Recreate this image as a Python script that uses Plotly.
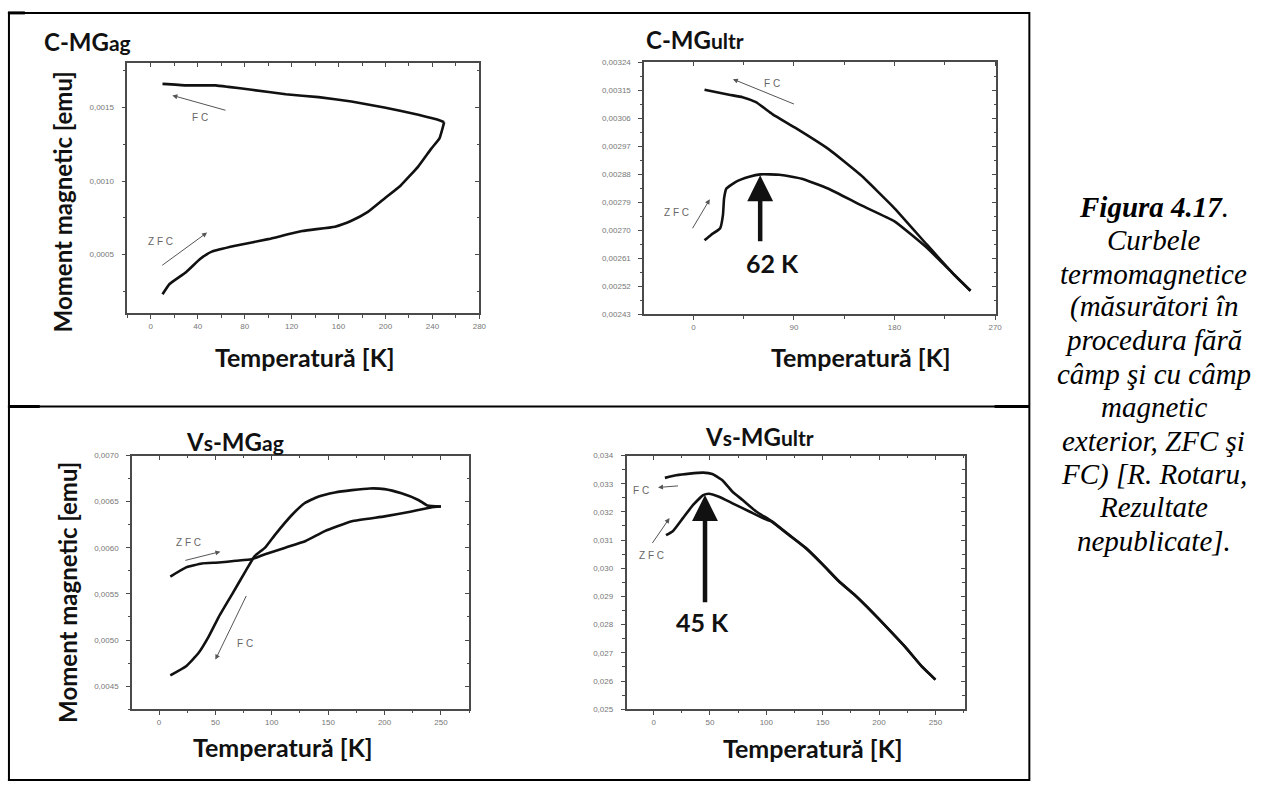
import plotly.graph_objects as go

W, H = 1283, 793

def PX(x):
    return x / W

def PY(y):
    return 1 - y / H

# ---------------- data ----------------
# C-MGag
cmgag_zfc_T = [10, 16, 30, 42, 52, 72, 100, 129, 157, 171, 185, 199, 213, 228, 239, 246, 249, 250]
cmgag_zfc_M = [0.00023, 0.00030, 0.00038, 0.00047, 0.00052, 0.00056, 0.000605, 0.00066, 0.00069,
               0.00073, 0.00079, 0.00088, 0.00097, 0.00110, 0.00122, 0.00129, 0.00137, 0.00140]
cmgag_fc_T = [250, 247, 228, 199, 171, 143, 115, 86, 66, 55, 30, 10]
cmgag_fc_M = [0.00140, 0.00141, 0.00145, 0.00150, 0.00154, 0.00157, 0.00159, 0.00162, 0.00164,
              0.00165, 0.00165, 0.00166]

# C-MGultr
cmgultr_fc_T = [10, 32, 44, 56, 71, 91, 121, 150, 180, 209, 233, 248]
cmgultr_fc_M = [0.003152, 0.003136, 0.003128, 0.003112, 0.003073, 0.00303, 0.002961, 0.002877,
                0.002771, 0.002654, 0.002559, 0.002506]
cmgultr_zfc_T = [10, 16, 24, 26.5, 27.5, 29.5, 38, 50, 60, 77, 97, 121, 150, 180, 209, 233, 248]
cmgultr_zfc_M = [0.002668, 0.002686, 0.002707, 0.00275, 0.002803, 0.002834, 0.002856, 0.002872,
                 0.00288, 0.002879, 0.002866, 0.002834, 0.002781, 0.002729, 0.002644, 0.002559, 0.002506]

# Vs-MGag
vsmgag_zfc_T = [10, 24, 38, 53, 68, 82, 94, 112, 130, 147, 171, 200, 224, 241, 250]
vsmgag_zfc_M = [0.005687, 0.005787, 0.00583, 0.00584, 0.005859, 0.005876, 0.00593, 0.006001,
                0.006073, 0.00618, 0.006287, 0.00634, 0.006394, 0.006437, 0.006447]
vsmgag_fc_T = [250, 238, 230, 215, 200, 187, 171, 156, 141, 129, 118, 103, 94, 85, 77, 65, 53,
               44, 35, 24, 10]
vsmgag_fc_M = [0.006447, 0.006458, 0.006518, 0.00659, 0.006636, 0.006643, 0.006625, 0.0066,
               0.006554, 0.006483, 0.006358, 0.006143, 0.006001, 0.005912, 0.005752, 0.005501,
               0.005252, 0.005037, 0.004859, 0.004716, 0.004617]

# Vs-MGultr
vsmgultr_fc_T = [10, 20, 32, 44, 52, 61, 70, 79, 91, 105, 120, 135, 150, 164, 179, 194, 208,
                 223, 238, 250]
vsmgultr_fc_M = [0.033207, 0.033298, 0.033358, 0.033393, 0.033347, 0.033123, 0.032716, 0.032421,
                 0.032014, 0.031663, 0.031193, 0.030726, 0.03014, 0.029558, 0.029032, 0.028446,
                 0.02786, 0.027218, 0.026516, 0.026049]
vsmgultr_zfc_T = [11, 17, 26, 35, 44, 49, 58, 70, 85, 97, 105, 120, 135, 150, 164, 179, 194,
                  208, 223, 238, 250]
vsmgultr_zfc_M = [0.031172, 0.031312, 0.031779, 0.032246, 0.032596, 0.032646, 0.03254, 0.032305,
                  0.032014, 0.031779, 0.03165, 0.03118, 0.03071, 0.03013, 0.02955, 0.02903,
                  0.02844, 0.02786, 0.02722, 0.02651, 0.02605]

# tick values / labels
p1_xticks = [0, 40, 80, 120, 160, 200, 240, 280]
p1_yticks = [0.0005, 0.0010, 0.0015]
p1_ylabels = ["0,0005", "0,0010", "0,0015"]
p2_xticks = [0, 90, 180, 270]
p2_yticks = [0.00243, 0.00252, 0.00261, 0.00270, 0.00279, 0.00288, 0.00297, 0.00306, 0.00315, 0.00324]
p2_ylabels = ["0,00243", "0,00252", "0,00261", "0,00270", "0,00279", "0,00288", "0,00297",
              "0,00306", "0,00315", "0,00324"]
p3_xticks = [0, 50, 100, 150, 200, 250]
p3_yticks = [0.0045, 0.0050, 0.0055, 0.0060, 0.0065, 0.0070]
p3_ylabels = ["0,0045", "0,0050", "0,0055", "0,0060", "0,0065", "0,0070"]
p4_xticks = [0, 50, 100, 150, 200, 250]
p4_yticks = [0.025, 0.026, 0.027, 0.028, 0.029, 0.030, 0.031, 0.032, 0.033, 0.034]
p4_ylabels = ["0,025", "0,026", "0,027", "0,028", "0,029", "0,030", "0,031", "0,032", "0,033", "0,034"]

panels = [
    dict(xdom=(128, 482), ydom=(60, 313), xr=(-20, 280), yr=(0.0001, 0.0018),
         xt=p1_xticks, yt=p1_yticks, yl=p1_ylabels, xminor=20, yminor=0.00025, y0=0.0,
         curves=[(cmgag_zfc_T, cmgag_zfc_M), (cmgag_fc_T, cmgag_fc_M)]),
    dict(xdom=(647.7, 1001.7), ydom=(59, 314), xr=(-44, 271), yr=(0.00243, 0.00324),
         xt=p2_xticks, yt=p2_yticks, yl=p2_ylabels, xminor=45, yminor=0.000045, y0=0.00243,
         curves=[(cmgultr_zfc_T, cmgultr_zfc_M), (cmgultr_fc_T, cmgultr_fc_M)]),
    dict(xdom=(132.7, 471.7), ydom=(456.7, 713.3), xr=(-24, 275), yr=(0.00425, 0.0070),
         xt=p3_xticks, yt=p3_yticks, yl=p3_ylabels, xminor=25, yminor=0.00025, y0=0.0045,
         curves=[(vsmgag_zfc_T, vsmgag_zfc_M), (vsmgag_fc_T, vsmgag_fc_M)]),
    dict(xdom=(630, 970), ydom=(456.7, 713.3), xr=(-24, 276), yr=(0.025, 0.034),
         xt=p4_xticks, yt=p4_yticks, yl=p4_ylabels, xminor=25, yminor=0.0005, y0=0.025,
         curves=[(vsmgultr_zfc_T, vsmgultr_zfc_M), (vsmgultr_fc_T, vsmgultr_fc_M)]),
]

fig = go.Figure()
layout_axes = {}
AXC = "#4a4a4a"
TICKFONT = dict(family="Liberation Sans", size=8, color="#777777")

def key(prefix, n):
    return f"{prefix}axis" if n == 1 else f"{prefix}axis{n}"

for i, p in enumerate(panels, start=1):
    j = i + 4
    xd = [PX(p["xdom"][0]), PX(p["xdom"][1])]
    yd = [PY(p["ydom"][1]), PY(p["ydom"][0])]
    layout_axes[key("x", i)] = dict(
        domain=xd, range=list(p["xr"]), anchor=f"y{i}", showline=True, linecolor=AXC,
        linewidth=1.5, mirror=True, ticks="outside", ticklen=4, tickwidth=1, tickcolor=AXC,
        tickmode="array", tickvals=p["xt"], ticktext=[str(v) for v in p["xt"]],
        tickfont=TICKFONT, showgrid=False, zeroline=False,
        minor=dict(ticks="outside", ticklen=2.5, tickcolor=AXC, tickmode="linear",
                   tick0=0, dtick=p["xminor"], showgrid=False))
    layout_axes[key("y", i)] = dict(
        domain=yd, range=list(p["yr"]), anchor=f"x{i}", showline=True, linecolor=AXC,
        linewidth=1.5, mirror=True, ticks="outside", ticklen=4, tickwidth=1, tickcolor=AXC,
        tickmode="array", tickvals=p["yt"], ticktext=p["yl"], tickfont=TICKFONT,
        ticklabelstandoff=6, showgrid=False, zeroline=False,
        minor=dict(ticks="outside", ticklen=2.5, tickcolor=AXC, tickmode="linear",
                   tick0=p["y0"], dtick=p["yminor"], showgrid=False))
    # overlay axes for inside ticks on top/right
    layout_axes[key("x", j)] = dict(
        overlaying=f"x{i}", anchor=f"y{j}", side="top", range=list(p["xr"]),
        ticks="inside", ticklen=4, tickcolor=AXC, tickmode="array", tickvals=p["xt"],
        showticklabels=False, showgrid=False, zeroline=False, showline=False,
        minor=dict(ticks="inside", ticklen=2.5, tickcolor=AXC, tickmode="linear",
                   tick0=0, dtick=p["xminor"], showgrid=False))
    layout_axes[key("y", j)] = dict(
        overlaying=f"y{i}", anchor=f"x{j}", side="right", range=list(p["yr"]),
        ticks="inside", ticklen=4, tickcolor=AXC, tickmode="array", tickvals=p["yt"],
        showticklabels=False, showgrid=False, zeroline=False, showline=False,
        minor=dict(ticks="inside", ticklen=2.5, tickcolor=AXC, tickmode="linear",
                   tick0=p["y0"], dtick=p["yminor"], showgrid=False))
    (zT, zM), (fT, fM) = p["curves"]
    fig.add_trace(go.Scatter(x=zT, y=zM, mode="lines", xaxis=f"x{i}", yaxis=f"y{i}",
                             line=dict(color="#111111", width=2.6, shape="spline", smoothing=0.4),
                             showlegend=False, hoverinfo="skip"))
    fig.add_trace(go.Scatter(x=fT, y=fM, mode="lines", xaxis=f"x{j}", yaxis=f"y{j}",
                             line=dict(color="#111111", width=2.6, shape="spline", smoothing=0.4),
                             showlegend=False, hoverinfo="skip"))

annotations = []

def paper_text(text, x, y, size, family="Lato", color="#111111", angle=0, xanchor="center",
               bold=True):
    annotations.append(dict(
        text=f"<b>{text}</b>" if bold else text, x=PX(x), y=PY(y), xref="paper", yref="paper",
        showarrow=False, xanchor=xanchor, yanchor="middle", textangle=angle,
        font=dict(family=family, size=size, color=color)))

SMALL = "<span style='font-size:21px'>{}</span>"
paper_text("C-MG" + SMALL.format("ag"), 42, 38, 24, xanchor="left")
paper_text("C-MG" + SMALL.format("ultr"), 648, 36, 24, xanchor="left")
paper_text("V" + SMALL.format("s") + "-MG" + SMALL.format("ag"), 185, 443, 24, xanchor="left")
paper_text("V" + SMALL.format("s") + "-MG" + SMALL.format("ultr"), 707, 437, 24, xanchor="left")

paper_text("Moment magnetic [emu]", 63, 200, 24, angle=-90)
paper_text("Moment magnetic [emu]", 68, 595, 24, angle=-90)
paper_text("Temperatură [K]", 307, 357, 25)
paper_text("Temperatură [K]", 866, 357, 25)
paper_text("Temperatură [K]", 285, 752, 25)
paper_text("Temperatură [K]", 817, 753, 25)

def arrow(i, head, tail, color="#555555", width=1.0, hd=2, size=1.0):
    annotations.append(dict(
        x=head[0], y=head[1], ax=tail[0], ay=tail[1], xref=f"x{i}", yref=f"y{i}",
        axref=f"x{i}", ayref=f"y{i}", text="", showarrow=True, arrowhead=hd,
        arrowwidth=width, arrowcolor=color, arrowsize=size))

def label(i, text, x, y, size=10, color="#666666", bold=False):
    annotations.append(dict(
        x=x, y=y, xref=f"x{i}", yref=f"y{i}", text=f"<b>{text}</b>" if bold else text,
        showarrow=False, font=dict(family="Liberation Sans" if not bold else "Lato",
                                   size=size, color=color)))

# panel 1 arrows
arrow(1, (18.4, 0.001582), (65, 0.001478))
label(1, "F C", 42, 0.00143)
arrow(1, (48, 0.00065), (8.5, 0.00042))
label(1, "Z F C", 8, 0.00059)
# panel 2
arrow(2, (35.4, 0.003186), (91.4, 0.003104))
label(2, "F C", 70.8, 0.003173)
arrow(2, (14.7, 0.0028), (-1.5, 0.002702))
label(2, "Z F C", -14.8, 0.002758)
arrow(2, (59.8, 0.002877), (59.8, 0.00266), color="#111111", width=4.5, hd=2, size=1.15)
label(2, "62 K", 70.8, 0.002596, size=25, color="#111111", bold=True)
# panel 3
arrow(3, (54.4, 0.005958), (22, 0.005859))
label(3, "Z F C", 26.5, 0.006055)
arrow(3, (50, 0.004788), (78, 0.005494))
label(3, "F C", 76.5, 0.004966)
# panel 4
arrow(4, (3.9, 0.032867), (23, 0.032926))
label(4, "F C", -10.9, 0.032772)
arrow(4, (14.1, 0.031779), (-2, 0.030842))
label(4, "Z F C", -2, 0.03047)
arrow(4, (45.6, 0.032596), (45.6, 0.028737), color="#111111", width=4.5, hd=2, size=1.15)
label(4, "45 K", 43.6, 0.028095, size=25, color="#111111", bold=True)

# caption (one annotation per line)
caption_lines = [
    "<b><i>Figura 4.17</i></b><i>.</i>",
    "<i>Curbele</i>",
    "<i>termomagnetice</i>",
    "<i>(măsurători în</i>",
    "<i>procedura fără</i>",
    "<i>câmp şi cu câmp</i>",
    "<i>magnetic</i>",
    "<i>exterior, ZFC şi</i>",
    "<i>FC) [R. Rotaru,</i>",
    "<i>Rezultate</i>",
    "<i>nepublicate].</i>",
]
for k, line in enumerate(caption_lines):
    annotations.append(dict(
        text=line, x=PX(1160), y=PY(205 + 33.8 * k), xref="paper", yref="paper",
        showarrow=False, xanchor="center", yanchor="middle", align="center",
        font=dict(family="Liberation Serif", size=29, color="#000000")))

# table lines
shapes = []
def hline(x0, x1, y, w=2):
    shapes.append(dict(type="line", xref="paper", yref="paper", x0=PX(x0), x1=PX(x1),
                       y0=PY(y), y1=PY(y), line=dict(color="black", width=w)))
def vline(x, y0, y1, w=2):
    shapes.append(dict(type="line", xref="paper", yref="paper", x0=PX(x), x1=PX(x),
                       y0=PY(y0), y1=PY(y1), line=dict(color="black", width=w)))

hline(8, 1035, 9)
hline(8, 1035, 785)
hline(8, 1035, 407)
hline(8, 40, 407, 3)
hline(1000, 1035, 407, 3)
hline(8, 25, 9, 3)
vline(9, 8, 786)
vline(1035, 8, 786)

fig.update_layout(
    width=W, height=H, margin=dict(l=0, r=0, t=0, b=0),
    paper_bgcolor="white", plot_bgcolor="white", showlegend=False,
    annotations=annotations, shapes=shapes, **layout_axes)

fig.write_html("out.html")
